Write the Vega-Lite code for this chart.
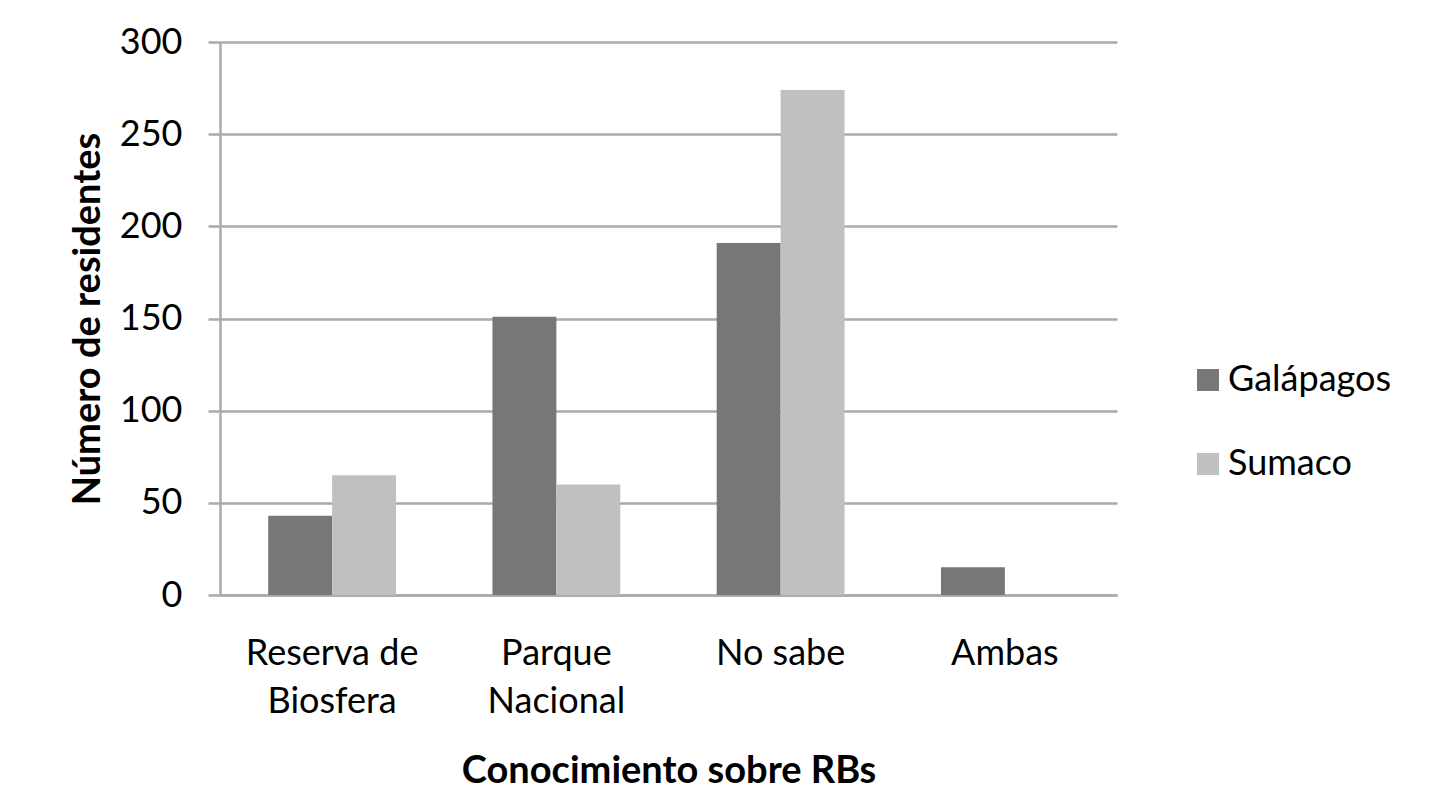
{
  "$schema": "https://vega.github.io/schema/vega-lite/v6.json",
  "autosize": "none",
  "width": 897,
  "height": 553,
  "padding": {"left": 220, "top": 42, "right": 338, "bottom": 214},
  "background": "white",
  "data": {
    "values": [
      {"categoria": "Reserva de Biosfera", "serie": "Galápagos", "residentes": 43},
      {"categoria": "Reserva de Biosfera", "serie": "Sumaco", "residentes": 65},
      {"categoria": "Parque Nacional", "serie": "Galápagos", "residentes": 151},
      {"categoria": "Parque Nacional", "serie": "Sumaco", "residentes": 60},
      {"categoria": "No sabe", "serie": "Galápagos", "residentes": 191},
      {"categoria": "No sabe", "serie": "Sumaco", "residentes": 274},
      {"categoria": "Ambas", "serie": "Galápagos", "residentes": 15},
      {"categoria": "Ambas", "serie": "Sumaco", "residentes": 0}
    ]
  },
  "mark": {"type": "bar"},
  "encoding": {
    "x": {
      "field": "categoria",
      "type": "nominal",
      "sort": ["Reserva de Biosfera", "Parque Nacional", "No sabe", "Ambas"],
      "scale": {"paddingInner": 0.43, "paddingOuter": 0.215},
      "axis": {
        "title": "Conocimiento sobre RBs",
        "labelAngle": 0,
        "labelExpr": "datum.label == 'Reserva de Biosfera' ? ['Reserva de', 'Biosfera'] : datum.label == 'Parque Nacional' ? ['Parque', 'Nacional'] : datum.label",
        "labelLineHeight": 48,
        "labelPadding": 41,
        "ticks": false,
        "domainColor": "#aaaaaa",
        "domainWidth": 2.5,
        "titlePadding": 33
      }
    },
    "xOffset": {
      "field": "serie",
      "type": "nominal",
      "sort": ["Galápagos", "Sumaco"],
      "scale": {"paddingInner": 0, "paddingOuter": 0}
    },
    "y": {
      "field": "residentes",
      "type": "quantitative",
      "scale": {"domain": [0, 300], "nice": false},
      "axis": {
        "title": "Número de residentes",
        "values": [0, 50, 100, 150, 200, 250, 300],
        "tickSize": 12,
        "tickColor": "#aaaaaa",
        "tickWidth": 2.5,
        "labelPadding": 26,
        "domainColor": "#aaaaaa",
        "domainWidth": 2.5,
        "gridColor": "#aaaaaa",
        "gridWidth": 2.5,
        "titlePadding": 12
      }
    },
    "color": {
      "field": "serie",
      "type": "nominal",
      "sort": ["Galápagos", "Sumaco"],
      "scale": {"domain": ["Galápagos", "Sumaco"], "range": ["#777777", "#c0c0c0"]},
      "legend": {
        "title": null,
        "orient": "none",
        "legendX": 970,
        "legendY": 320,
        "symbolType": "square",
        "symbolSize": 484,
        "symbolStrokeWidth": 0,
        "labelFontSize": 36,
        "labelOffset": 2,
        "labelLimit": 400,
        "rowPadding": 48
      }
    }
  },
  "config": {
    "font": "Lato",
    "view": {"stroke": null},
    "axis": {
      "labelFont": "Lato",
      "labelFontSize": 36,
      "labelColor": "#000000",
      "titleFont": "Lato",
      "titleFontSize": 38,
      "titleFontWeight": "bold",
      "titleColor": "#000000"
    },
    "legend": {"labelFont": "Lato", "labelColor": "#000000"}
  }
}
